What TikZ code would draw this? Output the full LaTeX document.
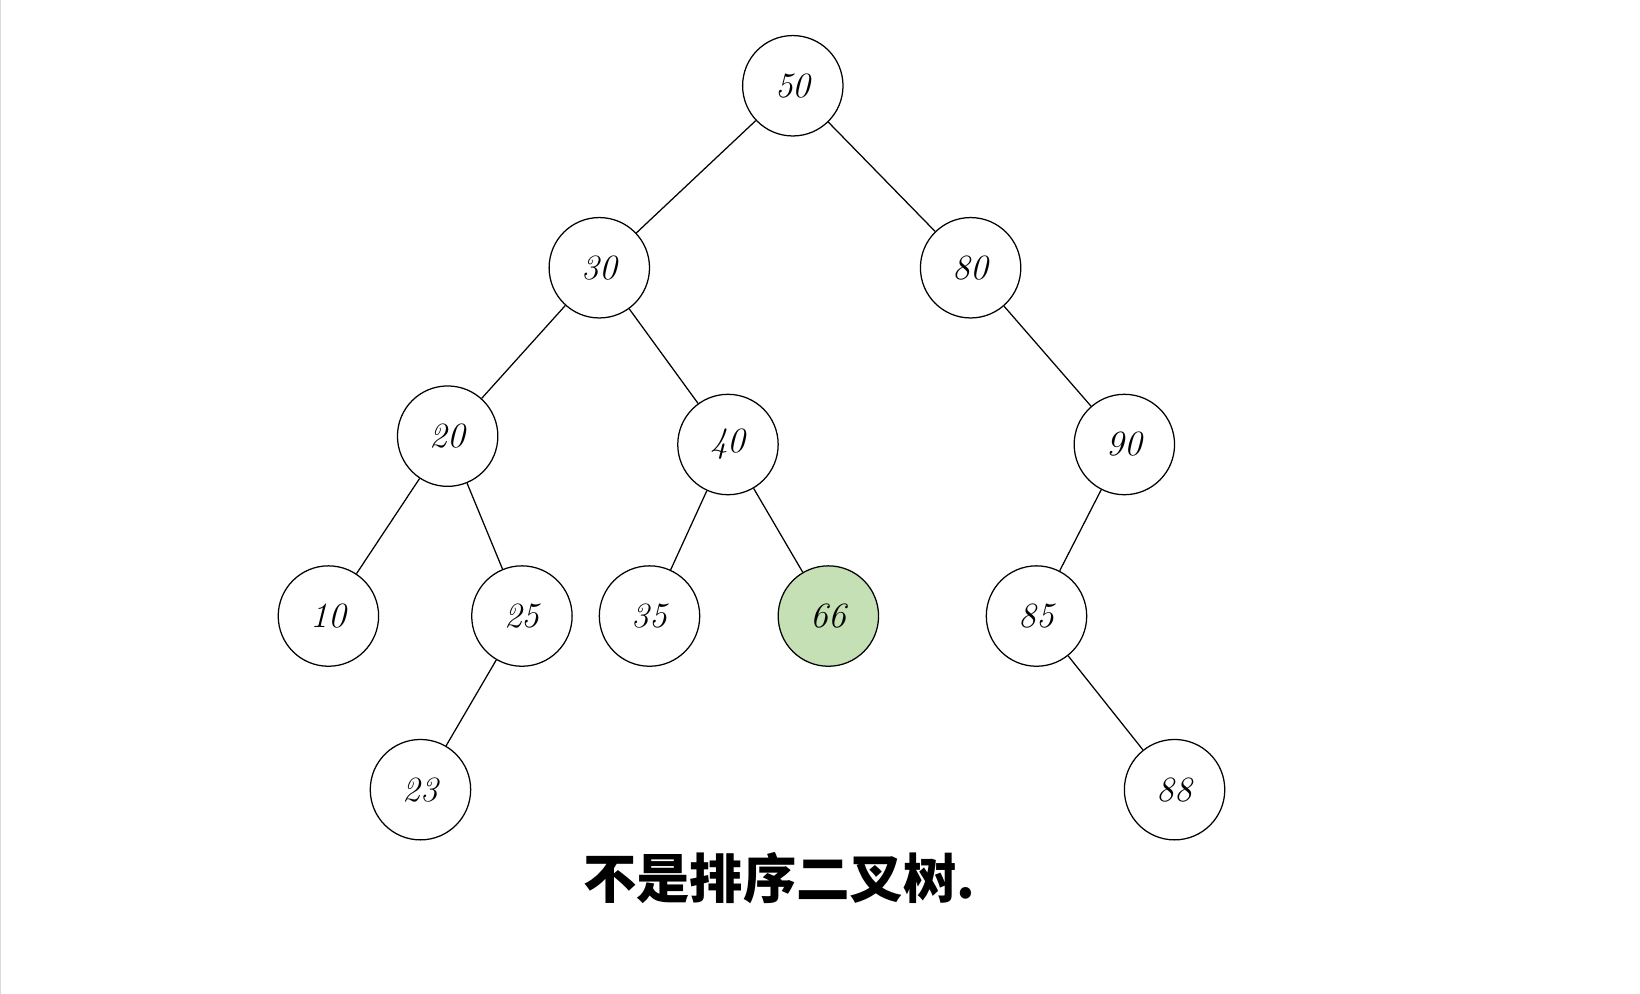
\documentclass[tikz,border=0pt]{standalone}
\usepackage{fontspec}
\newfontfamily\cjk{Noto Sans CJK SC}
\definecolor{leaf}{HTML}{C5E0B4}
\begin{document}
\begin{tikzpicture}[x=1pt,y=-1pt,
  tn/.style={circle,draw,line width=1.2pt,minimum size=96pt,inner sep=0pt,font=\fontsize{34}{34}\selectfont\itshape},
  edge/.style={line width=1.2pt}]
\useasboundingbox (0,0) rectangle (1568,950);
\fill[white] (0,0) rectangle (1568,950);
\draw[gray!30,line width=1pt] (0.5,0) -- (0.5,950);
\node[tn] (n50) at (758,82) {50};
\node[tn] (n30) at (573,256) {30};
\node[tn] (n80) at (928,256) {80};
\node[tn] (n20) at (428,417) {20};
\node[tn] (n40) at (696,425) {40};
\node[tn] (n90) at (1075,425) {90};
\node[tn] (n10) at (314,589) {10};
\node[tn] (n25) at (499,589) {25};
\node[tn] (n35) at (621,589) {35};
\node[tn,fill=leaf] (n66) at (792,589) {66};
\node[tn] (n85) at (991,589) {85};
\node[tn] (n23) at (402,755) {23};
\node[tn] (n88) at (1123,755) {88};
\draw[edge] (n50)--(n30) (n50)--(n80) (n30)--(n20) (n30)--(n40) (n80)--(n90)
 (n20)--(n10) (n20)--(n25) (n40)--(n35) (n40)--(n66) (n90)--(n85)
 (n25)--(n23) (n85)--(n88);
\node[font=\cjk\bfseries\fontsize{51}{51}\selectfont] (cap) at (745,840) {不是排序二叉树.};
\end{tikzpicture}
\end{document}
